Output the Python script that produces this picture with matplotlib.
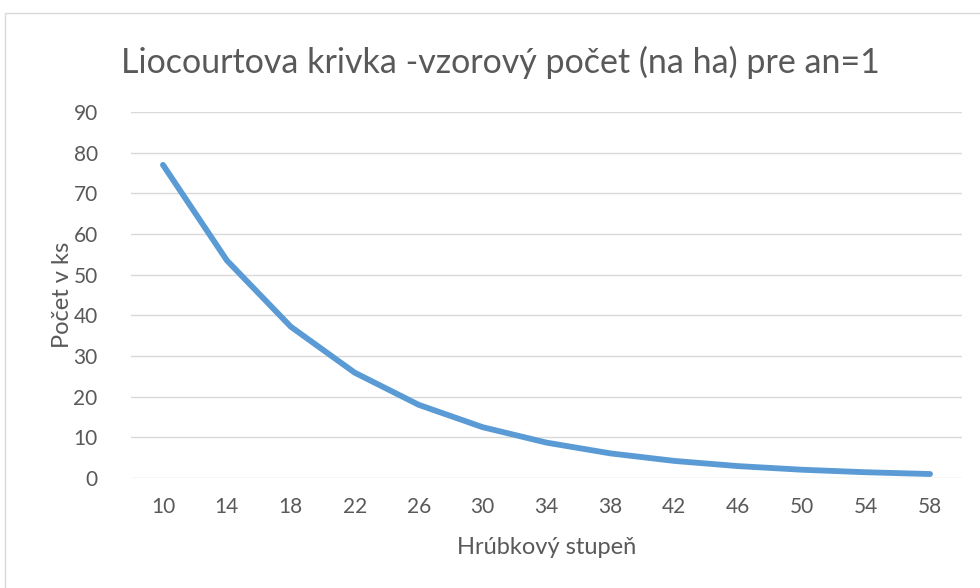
import matplotlib.pyplot as plt
from matplotlib.patches import Rectangle

# Data
stupne = ['10', '14', '18', '22', '26', '30', '34', '38', '42', '46', '50', '54', '58']
pocet = [77.0, 53.5, 37.2, 25.9, 18.0, 12.5, 8.7, 6.05, 4.2, 2.92, 2.03, 1.41, 0.98]
yticks = [0, 10, 20, 30, 40, 50, 60, 70, 80, 90]

plt.rcParams['font.family'] = ['Lato', 'DejaVu Sans']
txt = '#595959'

fig = plt.figure(figsize=(9.8, 5.88), dpi=100)
ax = fig.add_axes([131/980, (588-478)/588, (962-131)/980, (478-112)/588])

# outer chart border
fig.patches.append(Rectangle((5/980, -0.1), 1.1, (588-13)/588 + 0.1,
                             transform=fig.transFigure, fill=False,
                             edgecolor='#d9d9d9', lw=1))

x = range(len(stupne))
ax.plot(x, pocet, color='#5b9bd5', lw=4.2, solid_capstyle='round', solid_joinstyle='round')

ax.set_xlim(-0.5, len(stupne) - 0.5)
ax.set_ylim(0, 90)
ax.set_yticks(yticks)
ax.set_xticks(list(x))
ax.set_xticklabels(stupne)
ax.yaxis.grid(True, color='#d9d9d9', lw=1)
ax.set_axisbelow(True)
for s in ax.spines.values():
    s.set_visible(False)
ax.tick_params(length=0, labelsize=15, colors=txt, pad=14)
ax.tick_params(axis='y', pad=24)

fig.text(500/980, 1 - 62/588, 'Liocourtova krivka -vzorový počet (na ha) pre an=1',
         fontsize=24.5, color=txt, ha='center', va='center')
ax.set_xlabel('Hrúbkový stupeň', fontsize=17, color=txt, labelpad=14)
ax.set_ylabel('Počet v ks', fontsize=17, color=txt, labelpad=0)

fig.savefig('out.png', dpi=100)
